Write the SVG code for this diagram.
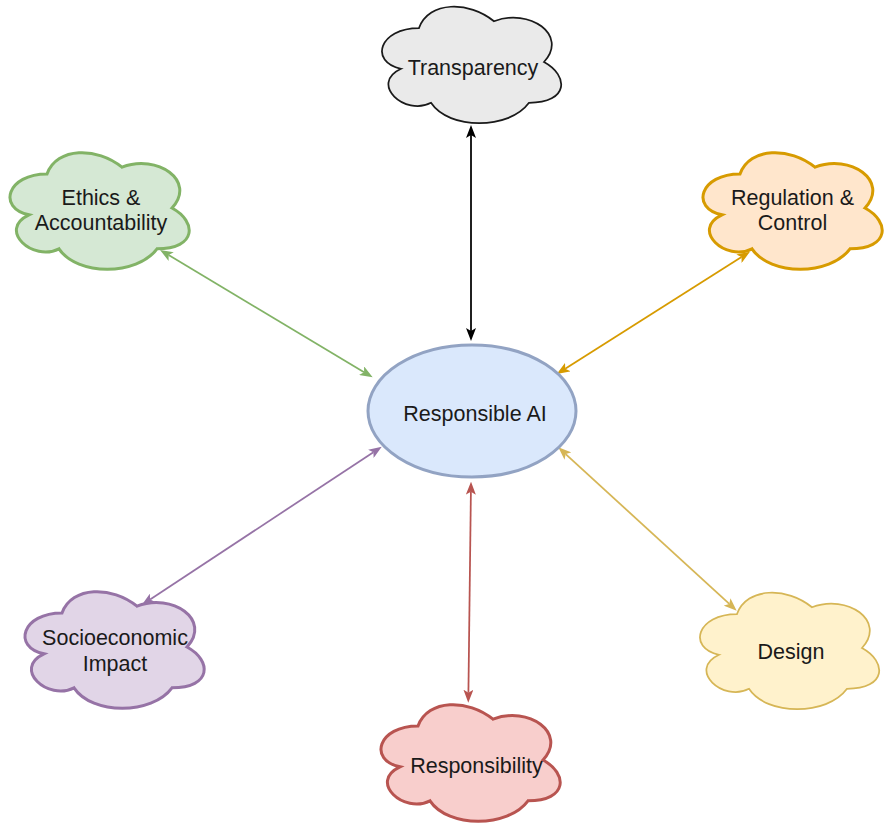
<svg xmlns="http://www.w3.org/2000/svg" width="884" height="824" viewBox="0 0 884 824">
  <defs>
    <style>
      text { font-family: "Liberation Sans", Arial, sans-serif; font-size: 21.5px; fill: #1a1a1a; text-anchor: middle; }
      .link { fill: none; stroke-width: 1.75; }
      .cloud { stroke-width: 3; }
    </style>
    <!-- cloud outline, 200 x 136 box -->
    <path id="cloudShape" d="M50 34 C10 34 0 68 32 74.8 C0 89.8 36 122.4 62 108.8 C80 136 140 136 160 108.8 C200 108.8 200 81.6 175 68 C200 40.8 160 13.6 125 27.2 C100 6.8 60 6.8 50 34 Z"/>
    <marker id="arBlack" viewBox="0 0 13 10" refX="3" refY="5" markerWidth="13" markerHeight="10" markerUnits="userSpaceOnUse" orient="auto-start-reverse"><path d="M0 0 L13 5 L0 10 L3 5 Z" fill="#000000"/></marker>
    <marker id="arGreen" viewBox="0 0 13 10" refX="3" refY="5" markerWidth="13" markerHeight="10" markerUnits="userSpaceOnUse" orient="auto-start-reverse"><path d="M0 0 L13 5 L0 10 L3 5 Z" fill="#82b366"/></marker>
    <marker id="arOrange" viewBox="0 0 13 10" refX="3" refY="5" markerWidth="13" markerHeight="10" markerUnits="userSpaceOnUse" orient="auto-start-reverse"><path d="M0 0 L13 5 L0 10 L3 5 Z" fill="#d79b00"/></marker>
    <marker id="arPurple" viewBox="0 0 13 10" refX="3" refY="5" markerWidth="13" markerHeight="10" markerUnits="userSpaceOnUse" orient="auto-start-reverse"><path d="M0 0 L13 5 L0 10 L3 5 Z" fill="#9673a6"/></marker>
    <marker id="arRed" viewBox="0 0 13 10" refX="3" refY="5" markerWidth="13" markerHeight="10" markerUnits="userSpaceOnUse" orient="auto-start-reverse"><path d="M0 0 L13 5 L0 10 L3 5 Z" fill="#b85450"/></marker>
    <marker id="arYellow" viewBox="0 0 13 10" refX="3" refY="5" markerWidth="13" markerHeight="10" markerUnits="userSpaceOnUse" orient="auto-start-reverse"><path d="M0 0 L13 5 L0 10 L3 5 Z" fill="#d6b656"/></marker>
  </defs>

  <rect width="884" height="824" fill="#ffffff"/>

  <g id="connectors">
    <line class="link" x1="471" y1="135" x2="471" y2="331" stroke="#000000" marker-start="url(#arBlack)" marker-end="url(#arBlack)"/>
    <line class="link" x1="168.6" y1="255.1" x2="364.1" y2="372.2" stroke="#82b366" marker-start="url(#arGreen)" marker-end="url(#arGreen)"/>
    <line class="link" x1="565.2" y1="368.7" x2="741.5" y2="257.1" stroke="#d79b00" marker-start="url(#arOrange)" marker-end="url(#arOrange)"/>
    <line class="link" x1="373.4" y1="452.2" x2="150.1" y2="599.5" stroke="#9673a6" marker-start="url(#arPurple)" marker-end="url(#arPurple)"/>
    <line class="link" x1="470.9" y1="491.7" x2="468.4" y2="692.7" stroke="#b85450" marker-start="url(#arRed)" marker-end="url(#arRed)"/>
    <line class="link" x1="565.7" y1="454.1" x2="729.3" y2="603.9" stroke="#d6b656" marker-start="url(#arYellow)" marker-end="url(#arYellow)"/>
  </g>

  <g id="responsible-ai">
    <ellipse cx="472" cy="411" rx="104" ry="66" fill="#dae8fc" stroke="#92a3c3" stroke-width="3"/>
    <text x="475" y="421">Responsible AI</text>
  </g>

  <g id="transparency">
    <use href="#cloudShape" transform="translate(369,-6)" fill="#eaeaea" stroke="#1a1a1a" stroke-width="1.75"/>
    <text x="473" y="75">Transparency</text>
  </g>

  <g id="ethics">
    <use href="#cloudShape" transform="translate(-3,140)" class="cloud" fill="#d5e8d4" stroke="#82b366"/>
    <text x="101" y="205">Ethics &amp;</text>
    <text x="101" y="230">Accountability</text>
  </g>

  <g id="regulation">
    <use href="#cloudShape" transform="translate(690,140)" class="cloud" fill="#ffe6cc" stroke="#d79b00"/>
    <text x="792.5" y="205">Regulation &amp;</text>
    <text x="792.5" y="230">Control</text>
  </g>

  <g id="socioeconomic">
    <use href="#cloudShape" transform="translate(12,579)" class="cloud" fill="#e1d5e7" stroke="#9673a6"/>
    <text x="115" y="645">Socioeconomic</text>
    <text x="115" y="670.5">Impact</text>
  </g>

  <g id="responsibility">
    <use href="#cloudShape" transform="translate(368,692)" class="cloud" fill="#f8cecc" stroke="#b85450"/>
    <text x="476.5" y="773">Responsibility</text>
  </g>

  <g id="design">
    <use href="#cloudShape" transform="translate(687,580)" fill="#fff2cc" stroke="#d6b656" stroke-width="1.75"/>
    <text x="791" y="659">Design</text>
  </g>
</svg>
